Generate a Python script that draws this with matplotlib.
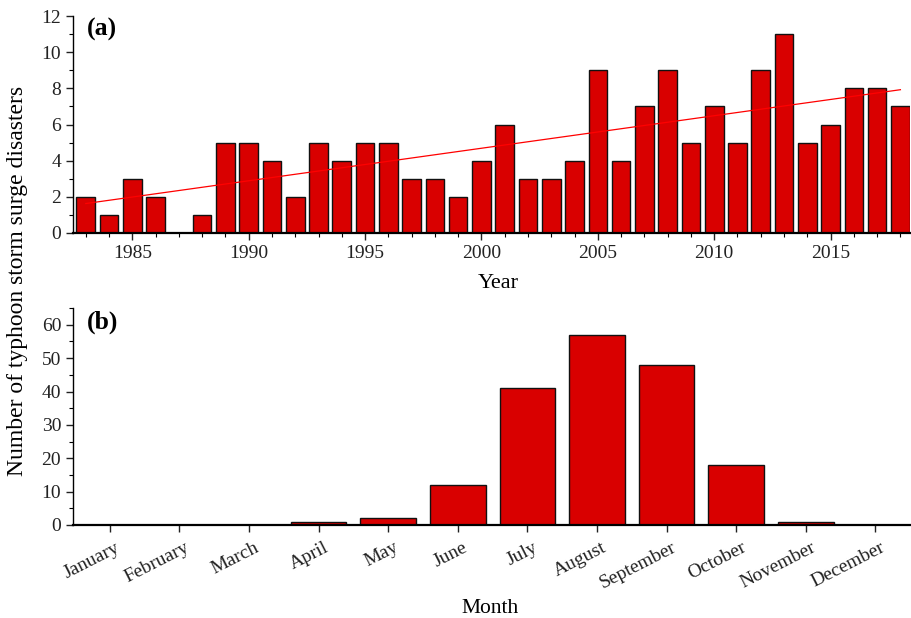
import numpy as np
import matplotlib
matplotlib.use("Agg")
import matplotlib.pyplot as plt
from matplotlib.ticker import MultipleLocator
from matplotlib.transforms import ScaledTranslation

plt.rcParams['font.family'] = ['Liberation Serif', 'DejaVu Serif']

years = list(range(1983, 2019))
yearly_counts = [2, 1, 3, 2, 0, 1, 5, 5, 4, 2, 5, 4, 5, 5, 3, 3, 2, 4, 6, 3,
                 3, 4, 9, 4, 7, 9, 5, 7, 5, 9, 11, 5, 6, 8, 8, 7]

months = ["January", "February", "March", "April", "May", "June", "July",
          "August", "September", "October", "November", "December"]
monthly_counts = [0, 0, 0, 1, 2, 12, 41, 57, 48, 18, 1, 0]

bar_color = "#d90000"

fig = plt.figure(figsize=(9.11, 6.18), dpi=100)
ax1 = fig.add_axes([0.0801, 0.623, 0.919, 0.351])
ax2 = fig.add_axes([0.0801, 0.1505, 0.919, 0.351])

for ax in (ax1, ax2):
    ax.spines['top'].set_visible(False)
    ax.spines['right'].set_visible(False)
    ax.spines['left'].set_linewidth(1.0)
    ax.spines['bottom'].set_linewidth(1.6)
    ax.tick_params(axis='both', which='major', direction='out', length=5,
                   width=1.0, labelsize=14, colors='#222222')
    ax.tick_params(axis='both', which='minor', direction='out', length=3, width=0.8)

# (a) yearly counts with linear trend
ax1.bar(years, yearly_counts, width=0.8, color=bar_color, edgecolor='#111111',
        linewidth=1.0, zorder=2)
coef = np.polyfit(years, yearly_counts, 1)
yr = np.array([years[0], years[-1]], dtype=float)
ax1.plot(yr, np.polyval(coef, yr), color='red', linewidth=0.9, zorder=3)
ax1.set_xlim(1982.45, 2018.42)
ax1.set_ylim(0, 12)
ax1.xaxis.set_major_locator(MultipleLocator(5))
ax1.xaxis.set_minor_locator(MultipleLocator(1))
ax1.yaxis.set_major_locator(MultipleLocator(2))
ax1.yaxis.set_minor_locator(MultipleLocator(1))
ax1.set_xlabel("Year", fontsize=16)
ax1.xaxis.set_label_coords(0.508, -0.19)
ax1.text(0.017, 0.99, "(a)", transform=ax1.transAxes, fontsize=18.5,
         fontweight='bold', va='top', ha='left')

# (b) monthly counts
x = np.arange(len(months))
ax2.bar(x, monthly_counts, width=0.8, color=bar_color, edgecolor='#111111',
        linewidth=1.0, zorder=2)
ax2.set_xlim(-0.53, 11.5)
ax2.set_ylim(0, 65)
ax2.set_xticks(x)
ax2.set_xticklabels(months, rotation=27, ha='right', rotation_mode='anchor')
ax2.tick_params(axis='x', which='major', pad=5)
shift = ScaledTranslation(5 / 100, 0, fig.dpi_scale_trans)
for lbl in ax2.get_xticklabels():
    lbl.set_transform(lbl.get_transform() + shift)
ax2.yaxis.set_major_locator(MultipleLocator(10))
ax2.yaxis.set_minor_locator(MultipleLocator(5))
ax2.set_xlabel("Month", fontsize=15.5)
ax2.xaxis.set_label_coords(0.498, -0.34)
ax2.text(0.017, 0.99, "(b)", transform=ax2.transAxes, fontsize=18.5,
         fontweight='bold', va='top', ha='left')

fig.text(0.019, 0.545, "Number of typhoon storm surge disasters", rotation=90,
         fontsize=17, va='center', ha='center')

fig.savefig("out.png", dpi=100)
